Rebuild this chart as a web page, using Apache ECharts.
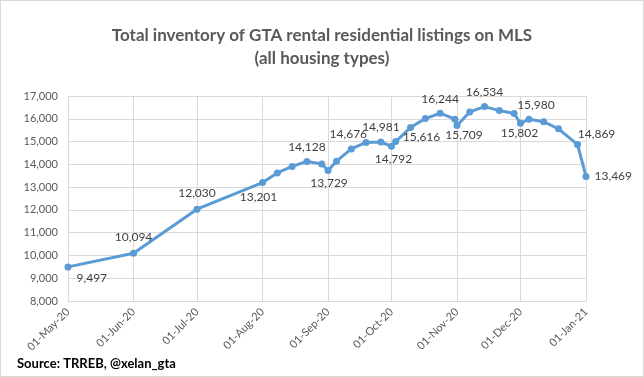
<!DOCTYPE html>
<html>
<head>
<meta charset="utf-8">
<script src="https://cdn.jsdelivr.net/npm/echarts@6/dist/echarts.min.js"></script>
<style>
html,body{margin:0;padding:0;background:#fff;}
#main{width:644px;height:377px;box-sizing:border-box;border:1px solid #d9d9d9;}
</style>
</head>
<body>
<div id="main"></div>
<script>
var dates = ['2020-05-01','2020-06-01','2020-07-01','2020-08-01','2020-08-08','2020-08-15','2020-08-22','2020-08-29',
    '2020-09-01','2020-09-05','2020-09-12','2020-09-19','2020-09-26','2020-10-01','2020-10-03','2020-10-10',
    '2020-10-17','2020-10-24','2020-10-31','2020-11-01','2020-11-07','2020-11-14','2020-11-21','2020-11-28',
    '2020-12-01','2020-12-05','2020-12-12','2020-12-19','2020-12-28','2021-01-01'];
var values = [9497,10094,12030,13201,13620,13910,14128,14020,
    13729,14140,14676,14960,14981,14792,15000,15616,
    16010,16244,15980,15709,16300,16534,16360,16230,
    15802,15980,15870,15560,14869,13469];
// which points get a value label
var labelled = [0,1,2,3,6,8,10,12,13,15,17,19,21,24,25,28,29];
var monthNames = ['Jan','Feb','Mar','Apr','May','Jun','Jul','Aug','Sep','Oct','Nov','Dec'];

(function () {
    var myChart = echarts.init(document.getElementById('main'));
    // label placement for each labelled point
    var labelStyle = {
        0: {position: 'right', offset: [0, 11]},
        1: {position: 'top', offset: [0, -2]},
        2: {position: 'top', offset: [0, -2]},
        3: {position: 'bottom', offset: [-4, 0]},
        6: {position: 'top', offset: [0, 0]},
        8: {position: 'bottom', offset: [1, -2]},
        10: {position: 'top', offset: [-3, 0]},
        12: {position: 'top', offset: [0, 0]},
        13: {position: 'bottom', offset: [2, -2]},
        15: {position: 'bottom', offset: [11, -5]},
        17: {position: 'top', offset: [0, 0]},
        19: {position: 'bottom', offset: [7, -5]},
        21: {position: 'top', offset: [0, 0]},
        24: {position: 'bottom', offset: [-1, -5]},
        25: {position: 'top', offset: [7, 0]},
        28: {position: 'top', offset: [19, 4]},
        29: {position: 'right', offset: [0, 0]}
    };
    var seriesData = [];
    for (var i = 0; i < dates.length; i++) {
        var item = {value: [dates[i], values[i]]};
        if (labelled.indexOf(i) >= 0) {
            item.label = {show: true, position: labelStyle[i].position, offset: labelStyle[i].offset};
        }
        seriesData.push(item);
    }
    myChart.setOption({
        animation: false,
        textStyle: {fontFamily: 'Lato'},
        title: [{
            text: 'Total inventory of GTA rental residential listings on MLS\n(all housing types)',
            left: 'center',
            top: 18,
            textStyle: {fontSize: 17, fontWeight: 'bold', color: '#595959', lineHeight: 23, fontFamily: 'Lato'}
        }, {
            text: 'Source: TRREB, @xelan_gta',
            left: 11,
            top: 351,
            textStyle: {fontSize: 13, fontWeight: 'bold', color: '#000', fontFamily: 'Lato'}
        }],
        grid: {left: 67, right: 57, top: 95, bottom: 75},
        xAxis: {
            type: 'time',
            min: '2020-05-01',
            max: '2021-01-01',
            splitNumber: 8,
            axisLine: {lineStyle: {color: '#d9d9d9'}},
            axisTick: {show: false},
            splitLine: {show: true, lineStyle: {color: '#d9d9d9'}},
            axisLabel: {
                rotate: 45,
                color: '#595959',
                fontSize: 11,
                margin: 9,
                showMinLabel: true,
                showMaxLabel: true,
                formatter: function (v) {
                    var d = new Date(v);
                    var dd = d.getDate() < 10 ? '0' + d.getDate() : '' + d.getDate();
                    return dd + '-' + monthNames[d.getMonth()] + '-' + String(d.getFullYear()).slice(2);
                }
            }
        },
        yAxis: {
            type: 'value',
            min: 8000,
            max: 17000,
            interval: 1000,
            axisLine: {show: false},
            axisTick: {show: false},
            splitLine: {lineStyle: {color: '#d9d9d9'}},
            axisLabel: {
                color: '#595959',
                fontSize: 11,
                margin: 10,
                formatter: function (v) { return v.toLocaleString('en-US'); }
            }
        },
        series: [{
            type: 'line',
            data: seriesData,
            symbol: 'circle',
            symbolSize: 7,
            lineStyle: {color: '#5b9bd5', width: 3},
            itemStyle: {color: '#5b9bd5'},
            label: {
                show: false,
                color: '#404040',
                fontSize: 12,
                formatter: function (p) { return p.value[1].toLocaleString('en-US'); }
            }
        }]
    });
})();
</script>
</body>
</html>
